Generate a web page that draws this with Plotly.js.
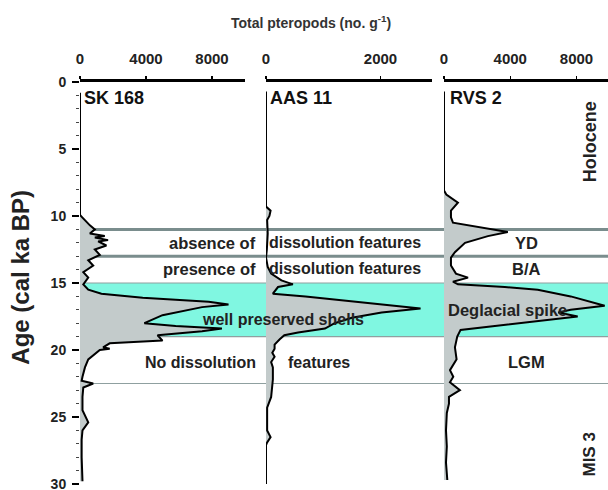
<!DOCTYPE html>
<html>
<head>
<meta charset="utf-8">
<script src="https://cdn.plot.ly/plotly-3.0.1.min.js"></script>
<style>html,body{margin:0;padding:0;background:#fff;}#chart{width:608px;height:490px;}</style>
</head>
<body>
<div id="chart"></div>
<script>
// SK 168
const ageSK = [0.8, 9.9, 10.0, 10.7, 11.0, 11.3, 11.5, 11.6, 11.8, 11.9, 12.2, 12.5, 12.9, 13.3, 13.7, 14.2, 14.6, 15.1, 15.5, 15.8, 16.1, 16.4, 16.6, 16.8, 17.4, 18.0, 18.2, 18.4, 18.6, 18.9, 19.3, 19.5, 19.8, 19.9, 20.0, 20.2, 20.4, 20.7, 21.3, 21.7, 22.0, 22.3, 22.5, 22.8, 23.5, 24.5, 25.0, 25.4, 26.0, 26.7, 28.0, 29.8];
const valSK = [0, 0, 50, 600, 900, 600, 1500, 900, 1700, 1100, 1600, 900, 1200, 500, 800, 200, 500, 200, 500, 1300, 3800, 7800, 9000, 7400, 5000, 3900, 5800, 8600, 7400, 4700, 5000, 1800, 1400, 1800, 1200, 1000, 800, 500, 300, 200, 150, 100, 800, 200, 150, 150, 350, 500, 150, 100, 100, 150];
// AAS 11
const ageAAS = [0.7, 9.3, 9.6, 10.0, 10.3, 11.3, 12.5, 13.1, 13.8, 14.3, 14.8, 15.1, 15.3, 15.8, 16.0, 16.5, 16.9, 17.2, 17.6, 18.0, 18.4, 18.7, 18.9, 19.2, 19.6, 19.9, 20.2, 20.5, 20.9, 21.3, 22.2, 23.5, 24.3, 26.0, 26.5, 26.9, 27.1, 30.0];
const valAAS = [0, 0, 80, 60, 20, 30, 15, 0, 30, 90, 270, 470, 210, 120, 690, 1790, 2700, 2020, 1500, 1200, 1030, 560, 320, 240, 150, 150, 110, 150, 90, 120, 120, 90, 20, 20, 80, 20, 0, 0];
// RVS 2
const ageRVS = [0.7, 8.1, 8.4, 9.0, 9.6, 10.1, 10.5, 10.8, 11.2, 11.5, 12.0, 12.7, 13.1, 13.7, 14.3, 14.6, 14.9, 15.1, 15.3, 15.5, 16.0, 16.7, 17.0, 17.2, 17.5, 18.5, 19.0, 19.8, 20.7, 21.5, 22.0, 22.4, 23.0, 23.5, 24.0, 24.7, 26.0, 27.2, 28.4, 29.7];
const valRVS = [0, 0, 140, 840, 420, 420, 540, 2050, 3850, 2650, 1270, 660, 420, 420, 720, 1450, 540, 840, 3670, 5660, 7650, 9700, 7650, 6900, 8070, 1000, 800, 660, 760, 360, 560, 360, 960, 300, 300, 170, 120, 170, 120, 200];

const coreNames = ["SK 168", "AAS 11", "RVS 2"];
const bandLabelsRight = ["YD", "B/A", "Deglacial spike", "LGM"];

const FONT = "Liberation Sans, Arial, sans-serif";
const TXT = "#222";
const fillGrey = "#c3cbcb";

function tr(x, y, ax) {
  return {x: x, y: y, xaxis: ax, yaxis: "y", type: "scatter", mode: "lines",
    line: {color: "#000", width: 2}, fill: "tozerox", fillcolor: fillGrey,
    hoverinfo: "skip", showlegend: false};
}
const data = [tr(valSK, ageSK, "x"), tr(valAAS, ageAAS, "x2"), tr(valRVS, ageRVS, "x3")];

const W = 528;
const px = p => (p - 80) / W;

function xax(domain, range, tickvals) {
  return {domain: domain, range: range, side: "top", anchor: "y",
    showline: true, linewidth: 3, linecolor: "#000", showgrid: false, zeroline: false,
    ticks: "outside", ticklen: 3, tickwidth: 1.5, tickcolor: "#000",
    ticklabelstandoff: 6,
    tickvals: tickvals, ticktext: tickvals.map(String),
    tickfont: {family: FONT, size: 15, color: TXT, weight: "bold"}, fixedrange: true};
}

function ann(text, x, y, opts, size) {
  return Object.assign({text: text, x: x, y: y, xref: "paper", yref: "y", showarrow: false,
    xanchor: "center", yanchor: "middle",
    font: {family: FONT, size: size || 16, color: TXT, weight: "bold"}}, opts || {});
}
const labFont = {family: FONT, size: 18, color: "#111", weight: "bold"};

const annotations = [
  ann(coreNames[0], px(82), 1.2, {xanchor: "left", font: labFont}),
  ann(coreNames[1], px(268), 1.2, {xanchor: "left", font: labFont}),
  ann(coreNames[2], px(448), 1.2, {xanchor: "left", font: labFont}),
  ann("Holocene", px(590), 4.5, {textangle: -90}, 18),
  ann("MIS 3", px(590), 27.8, {textangle: -90}, 17),
  ann(bandLabelsRight[0], px(526), 12.0, {}, 16.5),
  ann(bandLabelsRight[1], px(526), 13.95, {}, 16.5),
  ann(bandLabelsRight[2], px(507), 17.0, {}, 16.5),
  ann(bandLabelsRight[3], px(526), 20.9, {}, 16.5),
  ann("absence of", px(258), 12.0, {xanchor: "right"}, 16.5),
  ann("dissolution features", px(267), 12.0, {xanchor: "left"}),
  ann("presence of", px(258), 13.95, {xanchor: "right"}, 16.5),
  ann("dissolution features", px(267), 13.95, {xanchor: "left"}),
  ann("well preserved shells", px(283), 17.7),
  ann("No dissolution", px(258), 20.9, {xanchor: "right"}),
  ann("features", px(286), 20.9, {xanchor: "left"}),
  {text: "Total pteropods (no. g<sup>-1</sup>)", x: px(311), y: 1 + (82 - 22) / 402, xref: "paper", yref: "paper",
   xanchor: "center", yanchor: "middle",
   showarrow: false, font: {family: FONT, size: 14, color: "#333", weight: "bold"}},
  {text: "Age (cal ka BP)", x: px(21), y: 14.6, xref: "paper", yref: "y", textangle: -90,
   xanchor: "center", yanchor: "middle",
   showarrow: false, font: {family: FONT, size: 24, color: "#222", weight: "bold"}}
];

const shapes = [
  {type: "rect", xref: "paper", yref: "y", x0: 0, x1: 1, y0: 15, y1: 19, fillcolor: "#80f7e1", line: {width: 0}, layer: "below"},
  {type: "line", xref: "paper", yref: "y", x0: 0, x1: 1, y0: 15, y1: 15, line: {color: "#8fa0a0", width: 1.2}, layer: "below"},
  {type: "line", xref: "paper", yref: "y", x0: 0, x1: 1, y0: 19, y1: 19, line: {color: "#8fa0a0", width: 1.2}, layer: "below"},
  {type: "line", xref: "paper", yref: "y", x0: 0, x1: 1, y0: 22.5, y1: 22.5, line: {color: "#8fa0a0", width: 1.2}, layer: "below"},
  {type: "line", xref: "paper", yref: "y", x0: 0, x1: 1, y0: 11, y1: 11, line: {color: "#7a8d8d", width: 3}, layer: "below"},
  {type: "line", xref: "paper", yref: "y", x0: 0, x1: 1, y0: 13, y1: 13, line: {color: "#7a8d8d", width: 3}, layer: "below"}
];

const layout = {
  width: 608, height: 490,
  margin: {l: 80, r: 0, t: 82, b: 6, pad: 0},
  paper_bgcolor: "#fff", plot_bgcolor: "rgba(0,0,0,0)",
  showlegend: false,
  xaxis: xax([0, px(245)], [0, 10000], [0, 4000, 8000]),
  xaxis2: xax([px(266), px(432)], [0, 2900], [0, 2000]),
  xaxis3: xax([px(444), 1], [0, 9900], [0, 4000, 8000]),
  yaxis: {range: [30, 0], anchor: "x", showline: false, showgrid: false, zeroline: false,
    ticks: "outside", ticklen: 7, tickwidth: 2.5, tickcolor: "#000", dtick: 5, tick0: 0,
    ticklabeloverflow: "allow", ticklabelstandoff: 3,
    minor: {dtick: 1, ticks: "outside", ticklen: 3, tickwidth: 1, tickcolor: "#444"},
    tickfont: {family: FONT, size: 14, color: TXT, weight: "bold"}, fixedrange: true},
  shapes: shapes,
  annotations: annotations
};

Plotly.newPlot("chart", data, layout, {staticPlot: true, displayModeBar: false});
</script>
</body>
</html>
